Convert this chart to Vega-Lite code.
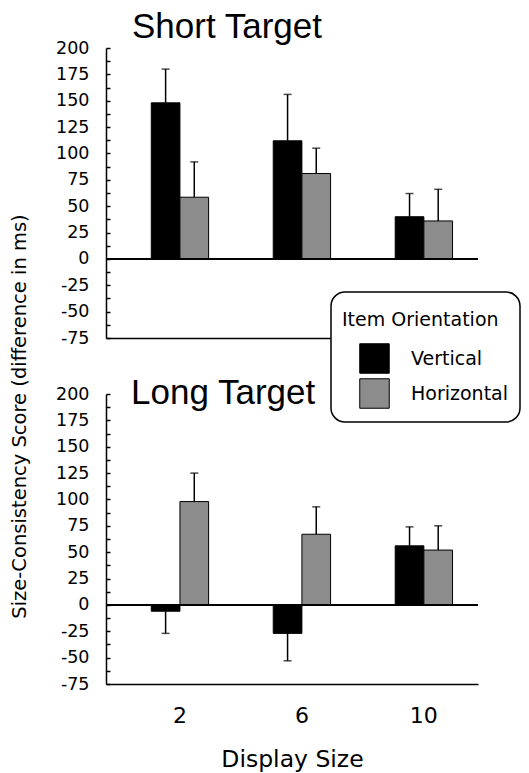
{
  "$schema": "https://vega.github.io/schema/vega-lite/v6.json",
  "background": "white",
  "padding": {"left": 9, "top": 10, "right": 5, "bottom": 5},
  "bounds": "flush",
  "spacing": 56,
  "config": {
    "font": "DejaVu Sans",
    "view": {"stroke": null},
    "axis": {"grid": false, "domainColor": "black", "domainWidth": 1.5, "tickColor": "black", "labelColor": "black", "titleColor": "black", "titleFontWeight": "normal", "labelOverlap": false},
    "legend": {
      "strokeColor": "black", "strokeWidth": 1.5, "cornerRadius": 14, "fillColor": "white",
      "padding": 11, "titleFontSize": 19, "titleFontWeight": "normal", "titleColor": "black", "titlePadding": 13, "titleLineHeight": 8,
      "labelFontSize": 19, "labelColor": "black", "labelOffset": 21,
      "symbolType": "square", "symbolSize": 870, "symbolStrokeColor": "black", "symbolStrokeWidth": 1, "symbolOffset": 17, "symbolOpacity": 1,
      "rowPadding": 0
    }
  },
  "data": {
    "values": [
      {"target": "Short", "size": 2, "orient": "Vertical", "value": 148, "err": 180},
      {"target": "Short", "size": 2, "orient": "Horizontal", "value": 58.5, "err": 92},
      {"target": "Short", "size": 6, "orient": "Vertical", "value": 112, "err": 156},
      {"target": "Short", "size": 6, "orient": "Horizontal", "value": 81, "err": 105},
      {"target": "Short", "size": 10, "orient": "Vertical", "value": 40, "err": 62},
      {"target": "Short", "size": 10, "orient": "Horizontal", "value": 36, "err": 66},
      {"target": "Long", "size": 2, "orient": "Vertical", "value": -6, "err": -27},
      {"target": "Long", "size": 2, "orient": "Horizontal", "value": 98, "err": 125},
      {"target": "Long", "size": 6, "orient": "Vertical", "value": -27, "err": -53},
      {"target": "Long", "size": 6, "orient": "Horizontal", "value": 67, "err": 93},
      {"target": "Long", "size": 10, "orient": "Vertical", "value": 56, "err": 74},
      {"target": "Long", "size": 10, "orient": "Horizontal", "value": 52, "err": 75}
    ]
  },
  "vconcat": [
    {
      "width": 372, "height": 290,
      "title": {"text": "Short Target", "anchor": "start", "frame": "group", "dx": 26, "offset": -6, "fontSize": 35, "font": "Liberation Sans", "fontWeight": "normal", "color": "black"},
      "transform": [{"filter": "datum.target == 'Short'"}],
      "resolve": {"axis": {"y": "independent"}},
      "encoding": {
        "x": {"field": "size", "type": "ordinal", "sort": [2, 6, 10],
              "scale": {"paddingInner": 0.53, "paddingOuter": 0.29, "align": 0.64},
              "axis": {"labels": false, "ticks": false, "title": null}},
        "xOffset": {"field": "orient", "type": "nominal", "sort": ["Vertical", "Horizontal"], "scale": {"paddingInner": 0, "paddingOuter": 0}}
      },
      "layer": [
        {
          "mark": {"type": "bar", "stroke": "black", "strokeWidth": 1},
          "encoding": {
            "y": {"field": "value", "type": "quantitative",
                  "scale": {"domain": [-75, 200], "nice": false, "zero": false},
                  "axis": {"orient": "left", "values": [-75, -50, -25, 0, 25, 50, 75, 100, 125, 150, 175, 200],
                           "labelExpr": "'' + datum.value",
                           "ticks": false, "labelPadding": 17, "labelFontSize": 17.5,
                           "title": "Size-Consistency Score (difference in ms)", "titleFontSize": 19.5,
                           "titleX": -77, "titleY": 368, "titleAngle": -90, "titleBaseline": "bottom", "titleAlign": "center"}},
            "color": {"field": "orient", "type": "nominal", "sort": ["Vertical", "Horizontal"],
                      "scale": {"domain": ["Vertical", "Horizontal"], "range": ["#000000", "#8c8c8c"]},
                      "legend": {"title": ["", "Item Orientation"], "orient": "none", "legendX": 225, "legendY": 244}}
          }
        },
        {
          "mark": {"type": "rule", "strokeWidth": 1.5, "color": "black"},
          "encoding": {
            "y": {"field": "value", "type": "quantitative",
                  "axis": {"orient": "left", "offset": -4, "domain": false, "labels": false, "title": null,
                           "values": [-75, -62.5, -50, -37.5, -25, -12.5, 0, 12.5, 25, 37.5, 50, 62.5, 75, 87.5, 100, 112.5, 125, 137.5, 150, 162.5, 175, 187.5, 200],
                           "ticks": true, "tickSize": 4, "tickWidth": 1.5}},
            "y2": {"field": "err"}}
        },
        {
          "mark": {"type": "tick", "orient": "horizontal", "size": 8, "thickness": 1.5, "color": "black"},
          "encoding": {"y": {"field": "err", "type": "quantitative", "axis": null}}
        },
        {
          "mark": {"type": "rule", "strokeWidth": 1.5, "color": "black"},
          "encoding": {"y": {"datum": 0, "axis": null}, "x": null, "xOffset": null}
        }
      ]
    },
    {
      "width": 372, "height": 290,
      "title": {"text": "Long Target", "anchor": "start", "frame": "group", "dx": 25, "offset": -26, "fontSize": 35, "font": "Liberation Sans", "fontWeight": "normal", "color": "black"},
      "transform": [{"filter": "datum.target == 'Long'"}],
      "resolve": {"axis": {"y": "independent"}},
      "encoding": {
        "x": {"field": "size", "type": "ordinal", "sort": [2, 6, 10],
              "scale": {"paddingInner": 0.53, "paddingOuter": 0.29, "align": 0.64},
              "axis": {"labelAngle": 0, "ticks": false, "labelFontSize": 22, "labelPadding": 21,
                       "title": "Display Size", "titleFontSize": 23.5, "titlePadding": 21}},
        "xOffset": {"field": "orient", "type": "nominal", "sort": ["Vertical", "Horizontal"], "scale": {"paddingInner": 0, "paddingOuter": 0}}
      },
      "layer": [
        {
          "mark": {"type": "bar", "stroke": "black", "strokeWidth": 1},
          "encoding": {
            "y": {"field": "value", "type": "quantitative",
                  "scale": {"domain": [-75, 200], "nice": false, "zero": false},
                  "axis": {"orient": "left", "values": [-75, -50, -25, 0, 25, 50, 75, 100, 125, 150, 175, 200],
                           "labelExpr": "'' + datum.value",
                           "ticks": false, "labelPadding": 17, "labelFontSize": 17.5,
                           "title": null}},
            "color": {"field": "orient", "type": "nominal", "sort": ["Vertical", "Horizontal"],
                      "scale": {"domain": ["Vertical", "Horizontal"], "range": ["#000000", "#8c8c8c"]},
                      "legend": {"title": ["", "Item Orientation"], "orient": "none", "legendX": 225, "legendY": 244}}
          }
        },
        {
          "mark": {"type": "rule", "strokeWidth": 1.5, "color": "black"},
          "encoding": {
            "y": {"field": "value", "type": "quantitative",
                  "axis": {"orient": "left", "offset": -4, "domain": false, "labels": false, "title": null,
                           "values": [-75, -62.5, -50, -37.5, -25, -12.5, 0, 12.5, 25, 37.5, 50, 62.5, 75, 87.5, 100, 112.5, 125, 137.5, 150, 162.5, 175, 187.5, 200],
                           "ticks": true, "tickSize": 4, "tickWidth": 1.5}},
            "y2": {"field": "err"}}
        },
        {
          "mark": {"type": "tick", "orient": "horizontal", "size": 8, "thickness": 1.5, "color": "black"},
          "encoding": {"y": {"field": "err", "type": "quantitative", "axis": null}}
        },
        {
          "mark": {"type": "rule", "strokeWidth": 1.5, "color": "black"},
          "encoding": {"y": {"datum": 0, "axis": null}, "x": null, "xOffset": null}
        }
      ]
    }
  ]
}
